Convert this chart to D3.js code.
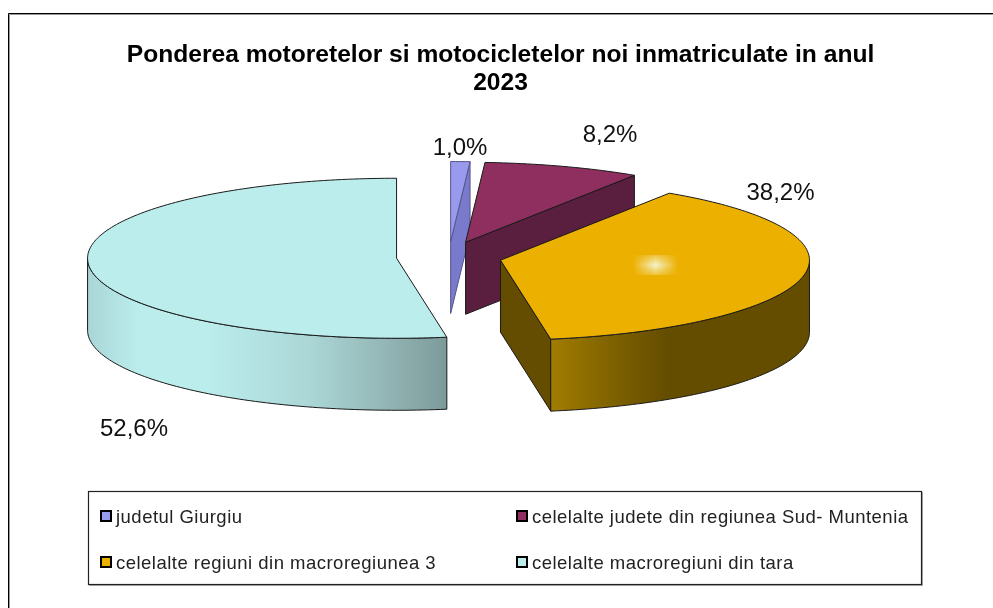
<!DOCTYPE html>
<html><head><meta charset="utf-8">
<script src="https://cdnjs.cloudflare.com/ajax/libs/d3/7.8.5/d3.min.js"></script>
<style>html,body{margin:0;padding:0;background:#fff}svg{display:block;filter:blur(.35px)}</style>
</head><body><svg id="c" width="993" height="608"></svg>
<script>
const titleLines = ["Ponderea motoretelor si motocicletelor noi inmatriculate in anul", "2023"];
const categories = ["judetul Giurgiu", "celelalte judete din regiunea Sud- Muntenia", "celelalte regiuni din macroregiunea 3", "celelalte macroregiuni din tara"];
const values = [1.0, 8.2, 38.2, 52.6];
const valueLabels = ["1,0%", "8,2%", "38,2%", "52,6%"];
const topColors = ["#9999ee", "#8f2f5f", "#ecb100", "#bbeded"];
const cutColors = ["#7a7acc", "#5a1f3e", "#644c00", "#8aa8a8"];

const cx = 449, cy = 257, rx = 309, ry = 80, depth = 72, explodeX = 52.6, explodeY = 15.5;
const svg = d3.select("#c");
const defs = svg.append("defs");

// frame: only top and left edges are in view
svg.append("path").attr("d","M9.5 608V14.5H993").attr("fill","none").attr("stroke","#999").attr("stroke-width",1);
svg.append("path").attr("d","M8.5 608V13.5H993").attr("fill","none").attr("stroke","#000").attr("stroke-width",1);

// title
svg.append("g").selectAll("text").data(titleLines).join("text")
  .attr("x",500.5).attr("y",(d,i)=>62+i*28).attr("text-anchor","middle")
  .attr("font-family","'Liberation Sans',Arial,sans-serif").attr("font-weight","bold").attr("font-size",24.6).attr("fill","#000").text(d=>d);

const pie = d3.pie().sort(null).value(d=>d);
const arcs = pie(values);
const ex = d3.scaleLinear().domain([-1,1]).range([-rx,rx]);
const ey = d3.scaleLinear().domain([-1,1]).range([ry,-ry]);
const line = d3.line();

function center(a){const m=(a.startAngle+a.endAngle)/2;return [cx+explodeX*Math.sin(m), cy-explodeY*Math.cos(m)];}
function rim(c,t,dz=0){return [c[0]+ex(Math.sin(t)), c[1]+ey(Math.cos(t))+dz];}
function arcPts(c,a0,a1,dz=0){const n=Math.max(2,Math.ceil((a1-a0)/0.02));return d3.range(n+1).map(i=>rim(c,a0+(a1-a0)*i/n,dz));}
function wallGradient(id,x1,x2,stops){
  const g=defs.append("linearGradient").attr("id",id).attr("gradientUnits","userSpaceOnUse").attr("x1",x1).attr("x2",x2).attr("y1",0).attr("y2",0);
  stops.forEach(s=>g.append("stop").attr("offset",s[0]).attr("stop-color",s[1]));
}
const stroke = "#1a1a1a";
const order = [3,0,1,2];
const layer = svg.append("g");
order.forEach(i=>{
  const a=arcs[i], c=center(a), g=layer.append("g");
  const s0=a.startAngle, s1=a.endAngle;
  if(Math.sin(s1)>1e-6){
    const p=rim(c,s1);
    g.append("path").attr("d",line([c,p,[p[0],p[1]+depth],[c[0],c[1]+depth]])+"Z")
      .attr("fill",cutColors[i]).attr("stroke",i==0?"#55558a":stroke).attr("stroke-width",1);
  }
  const w00=Math.max(s0,Math.PI/2), w1=Math.min(s1,3*Math.PI/2);
  if(w1>w00){
    const top=arcPts(c,w00,w1), bot=arcPts(c,w00,w1,depth).reverse();
    const xs=top.map(p=>p[0]);
    const x0=d3.min(xs), x1=d3.max(xs), id="wall"+i;
    if(i==3) wallGradient(id,x0,x1,[[0,"#a9d5d5"],[0.14,"#bbeded"],[0.33,"#bbeded"],[0.62,"#abd6d6"],[0.85,"#91b2b2"],[1,"#7c9a9a"]]);
    else wallGradient(id,x0,x1,[[0,"#a17d00"],[0.25,"#7d6000"],[0.45,"#654d00"],[1,"#654d00"]]);
    g.append("path").attr("d",line(top.concat(bot))+"Z").attr("fill",`url(#${id})`).attr("stroke",stroke).attr("stroke-width",1);
  }
  g.append("path").attr("d",line([c].concat(arcPts(c,s0,s1)))+"Z").attr("fill",topColors[i]).attr("stroke",i==0?"#55558a":stroke).attr("stroke-width",1);
});

// highlight on the largest-right slice
const hx=defs.append("linearGradient").attr("id","hx");
[[0,0],[.5,1],[1,0]].forEach(s=>hx.append("stop").attr("offset",s[0]).attr("stop-color","#f5f3d0").attr("stop-opacity",s[1]));
const hy=defs.append("linearGradient").attr("id","hy").attr("x1",0).attr("x2",0).attr("y1",0).attr("y2",1);
[[0,.3],[.5,1],[1,.3]].forEach(s=>hy.append("stop").attr("offset",s[0]).attr("stop-color","#fff").attr("stop-opacity",s[1]));
defs.append("mask").attr("id","hm").attr("maskContentUnits","objectBoundingBox").append("rect").attr("width",1).attr("height",1).attr("fill","url(#hy)");
svg.append("rect").attr("x",633).attr("y",255).attr("width",45).attr("height",20).attr("fill","url(#hx)").attr("mask","url(#hm)");

// data labels
const labelPos=[[460,154.5],[610,141.5],[780.5,199.5],[134,436]];
svg.append("g").selectAll("text").data(valueLabels).join("text")
  .attr("x",(d,i)=>labelPos[i][0]).attr("y",(d,i)=>labelPos[i][1]).attr("text-anchor","middle")
  .attr("font-family","'Liberation Sans',Arial,sans-serif").attr("font-size",24).attr("fill","#111").text(d=>d);

// legend
svg.append("rect").attr("x",89.5).attr("y",492.5).attr("width",833).attr("height",93).attr("fill","none").attr("stroke","#aaa").attr("stroke-width",1);
svg.append("rect").attr("x",88.5).attr("y",491.5).attr("width",833).attr("height",93).attr("fill","#fff").attr("stroke","#222").attr("stroke-width",1.2);
const legX=[101,517], legY=[511,557];
const leg=svg.append("g").selectAll("g").data(categories).join("g")
  .attr("transform",(d,i)=>`translate(${legX[i%2]},${legY[i>>1]})`);
leg.append("rect").attr("width",10).attr("height",10).attr("fill",(d,i)=>topColors[i]).attr("stroke","#000").attr("stroke-width",2);
leg.append("text").attr("x",15).attr("y",11.5).attr("font-family","'Liberation Sans',Arial,sans-serif").attr("font-size",18.5).attr("letter-spacing",.48).attr("fill","#222").text(d=>d);
</script></body></html>
